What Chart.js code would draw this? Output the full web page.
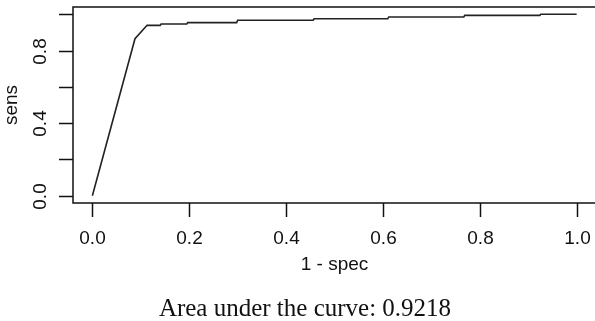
<!DOCTYPE html>
<html>
<head>
<meta charset="utf-8">
<script src="https://cdn.jsdelivr.net/npm/chart.js@4"></script>
<style>
  html, body { margin: 0; padding: 0; background: #fff; overflow: hidden; }
  #wrap { position: relative; width: 600px; height: 321px; }
</style>
</head>
<body>
<div id="wrap"><canvas id="roc" width="600" height="321"></canvas></div>
<script>
// ROC curve points
const fpr = [0, 0.088, 0.113, 0.140, 0.142, 0.195, 0.197, 0.298, 0.300, 0.456, 0.458, 0.610, 0.612, 0.767, 0.769, 0.924, 0.926, 1.0];
const tpr = [0, 0.865, 0.939, 0.939, 0.946, 0.946, 0.954, 0.954, 0.967, 0.967, 0.975, 0.975, 0.985, 0.985, 0.994, 0.994, 1.0, 1.0];

const xTicks = [0, 0.2, 0.4, 0.6, 0.8, 1.0];
const xTickLabels = ['0.0', '0.2', '0.4', '0.6', '0.8', '1.0'];
const yTicks = [0, 0.2, 0.4, 0.6, 0.8, 1.0];
const yTickLabels = ['0.0', '', '0.4', '', '0.8', ''];

const xTitle = '1 - spec';
const yTitle = 'sens';
const caption = 'Area under the curve: 0.9218';

const sansFont = '19px "Liberation Sans", Arial, sans-serif';
const serifFont = '25px "Liberation Serif", "Times New Roman", serif';
const ink = '#111';

// R-style box, ticks and labels drawn from the chart's scales
const rAxes = {
  id: 'rAxes',
  afterDraw(chart) {
    const { ctx, chartArea: a, scales: { x, y } } = chart;
    ctx.save();
    ctx.strokeStyle = ink;
    ctx.fillStyle = ink;
    ctx.lineWidth = 1.5;
    ctx.strokeRect(a.left, a.top, a.right - a.left, a.bottom - a.top);

    ctx.font = sansFont;
    ctx.textAlign = 'center';
    ctx.textBaseline = 'middle';

    // x axis
    xTicks.forEach((v, i) => {
      const px = Math.round(x.getPixelForValue(v)) + 0.5;
      ctx.beginPath();
      ctx.moveTo(px, a.bottom);
      ctx.lineTo(px, a.bottom + 14);
      ctx.stroke();
      ctx.fillText(xTickLabels[i], px, a.bottom + 36);
    });
    ctx.fillText(xTitle, (a.left + a.right) / 2, a.bottom + 62);

    // y axis
    yTicks.forEach((v, i) => {
      const py = Math.round(y.getPixelForValue(v)) + 0.5;
      ctx.beginPath();
      ctx.moveTo(a.left, py);
      ctx.lineTo(a.left - 14, py);
      ctx.stroke();
      if (yTickLabels[i]) {
        ctx.save();
        ctx.translate(a.left - 32, py);
        ctx.rotate(-Math.PI / 2);
        ctx.fillText(yTickLabels[i], 0, 0);
        ctx.restore();
      }
    });
    ctx.save();
    ctx.translate(12, (a.top + a.bottom) / 2);
    ctx.rotate(-Math.PI / 2);
    ctx.fillText(yTitle, 0, 0);
    ctx.restore();

    // caption under the plot
    ctx.font = serifFont;
    ctx.textBaseline = 'alphabetic';
    ctx.fillText(caption, 305, 316);
    ctx.restore();
  }
};

new Chart(document.getElementById('roc'), {
  type: 'scatter',
  data: {
    datasets: [{
      data: fpr.map((v, i) => ({ x: v, y: tpr[i] })),
      showLine: true,
      borderColor: '#222',
      borderWidth: 1.6,
      pointRadius: 0,
      tension: 0,
      fill: false
    }]
  },
  options: {
    responsive: false,
    animation: false,
    layout: { padding: { left: 73, right: 4, top: 7, bottom: 118 } },
    plugins: { legend: { display: false }, tooltip: { enabled: false } },
    scales: {
      x: { type: 'linear', min: -0.04, max: 1.04, display: false },
      y: { type: 'linear', min: -0.04, max: 1.04, display: false }
    }
  },
  plugins: [rAxes]
});
</script>
</body>
</html>
